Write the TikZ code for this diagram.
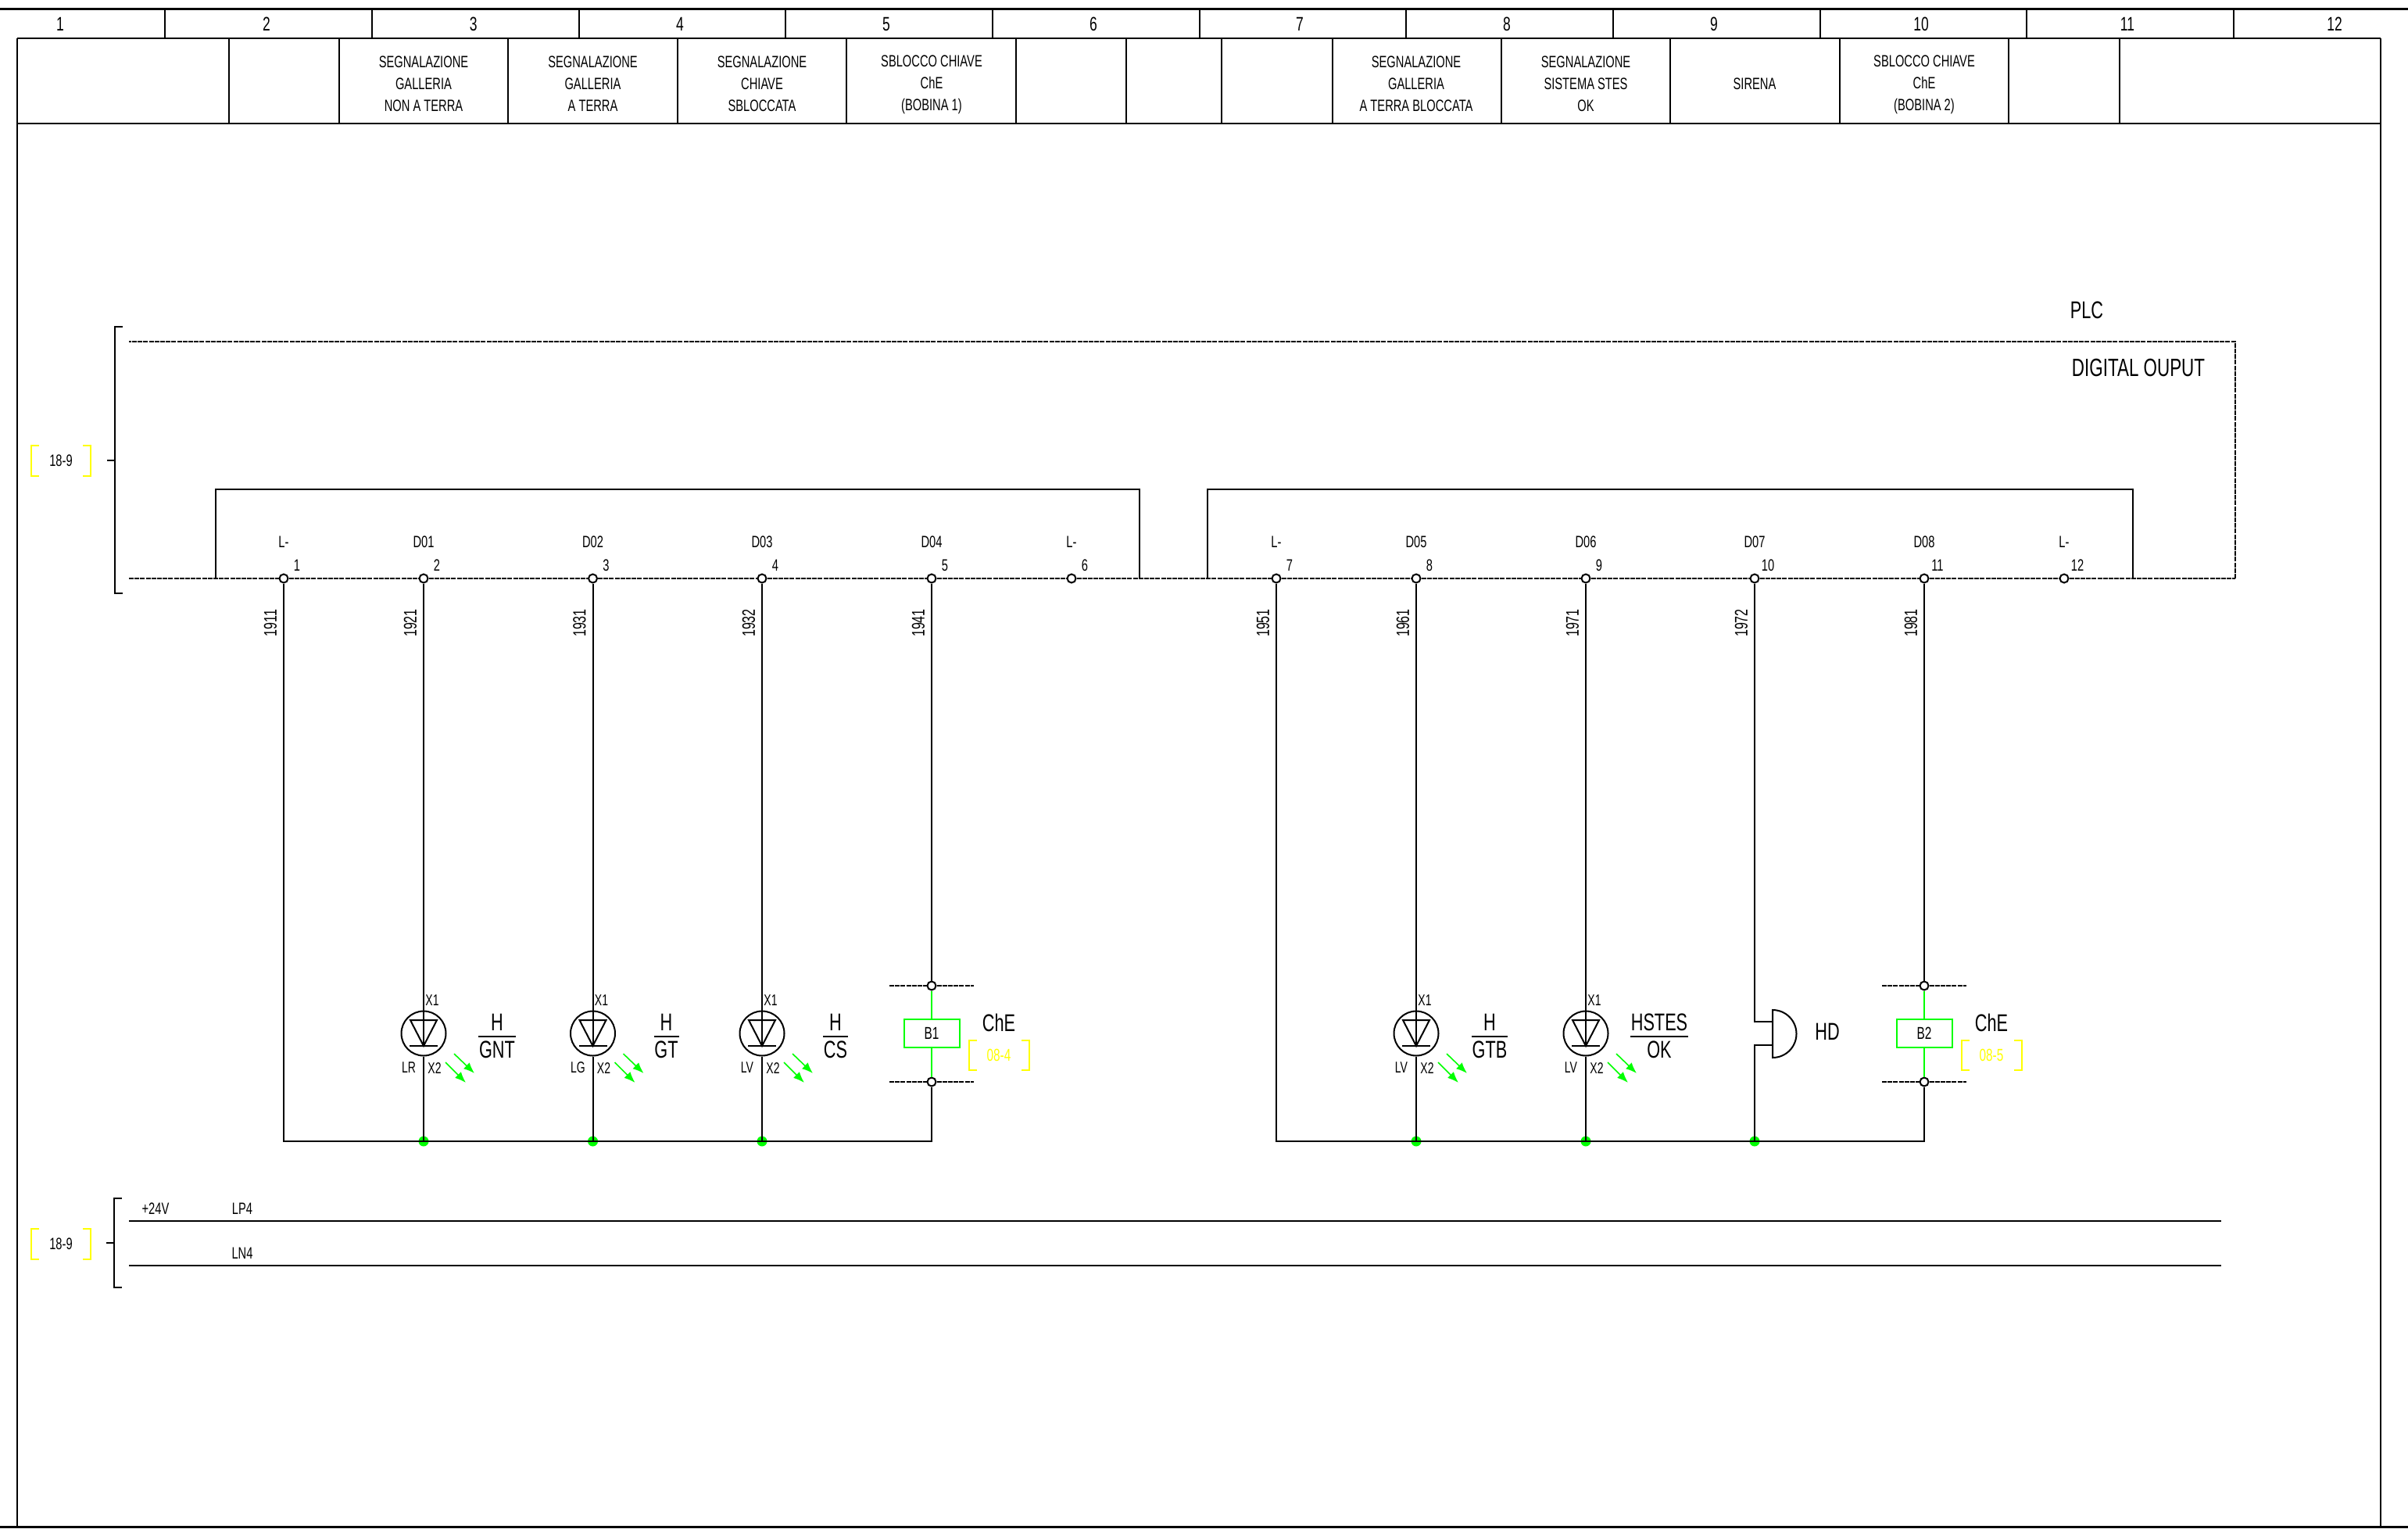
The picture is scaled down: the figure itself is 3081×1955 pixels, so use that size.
\documentclass[tikz,border=0pt]{standalone}
\usepackage{fontspec}
\setmainfont[FakeStretch=0.7]{Liberation Sans}
\usetikzlibrary{arrows.meta}
\definecolor{grn}{RGB}{0,255,0}
\definecolor{ylw}{RGB}{255,255,0}
\newcommand{\fsz}[2][1.2]{\fontsize{#2}{#1 em}\selectfont}
\tikzset{
  wire/.style={line width=2pt,line join=miter},
  frame/.style={line width=2.4pt},
  fine/.style={line width=1.6pt},
  busdash/.style={line width=2pt,dash pattern=on 6pt off 1.2pt},
  term/.style={circle,draw=black,fill=white,line width=2pt,inner sep=0pt,minimum size=11pt},
  junc/.style={circle,fill=grn,inner sep=0pt,minimum size=13pt},
  txt/.style={inner sep=0pt,text=black},
  head/.style={txt,font=\fsz[28pt]{21},align=center},
  colnum/.style={txt,font=\fsz{25}},
  tiny/.style={txt,font=\fsz{20}},
  termlab/.style={txt,font=\fsz{21}},
  small/.style={txt,font=\fsz{21}},
  big/.style={txt,font=\fsz{31}},
  wirelab/.style={txt,font=\fsz{23},rotate=90},
  coilbox/.style={rectangle,draw=grn,line width=2pt,fill=white,minimum width=71pt,minimum height=36pt,inner sep=0pt,font=\fsz{22}},
  ledring/.style={circle,draw=black,line width=2pt,inner sep=0pt,minimum size=57pt},
  glow/.style={draw=grn,fill=grn,line width=1.6pt,-{Latex[length=14pt,width=11pt]}},
  ybr/.style={draw=ylw,line width=2pt},
  bracketk/.style={line width=2pt},
}
% LED symbol: id, x, colour label, upper tag, lower tag, half length of the bar
\newcommand{\ledsym}[6]{%
  \node[ledring] (led#1) at (#2,1322) {};
  \draw[line width=2pt,line join=miter] (#2-17,1305) -- (#2+17,1305) -- (#2,1338) -- cycle;
  \draw[line width=2pt] (#2-18,1338) -- (#2+18,1338);
  \node[tiny] (x1#1) at (#2+11,1280) {X1};
  \node[tiny] (x2#1) at (#2+14,1366) {X2};
  \node[tiny] (col#1) at (#2-19,1366) {#3};
  \coordinate (ga#1) at (#2+39,1348);
  \coordinate (gb#1) at (#2+65,1373);
  \coordinate (gc#1) at (#2+28,1359);
  \coordinate (gd#1) at (#2+54,1385);
  \draw[glow] (ga#1) -- (gb#1);
  \draw[glow] (gc#1) -- (gd#1);
  \node[big] (up#1) at (#2+94,1308) {#4};
  \node[big] (lo#1) at (#2+94,1343) {#5};
  \coordinate (la#1) at (#2+94-#6,1326);
  \coordinate (lb#1) at (#2+94+#6,1326);
  \draw[line width=2.6pt] (la#1) -- (lb#1);
}
% Coil: id, x, coil name, cross reference
\newcommand{\coilsym}[4]{%
  \node[term] (ct#1) at (#2,1261) {};
  \node[term] (cb#1) at (#2,1384) {};
  \coordinate (cta#1) at (#2-54,1261);
  \coordinate (ctb#1) at (#2+54,1261);
  \coordinate (cba#1) at (#2-54,1384);
  \coordinate (cbb#1) at (#2+54,1384);
  \draw[busdash] (cta#1) -- (ct#1) -- (ctb#1);
  \draw[busdash] (cba#1) -- (cb#1) -- (cbb#1);
  \node[coilbox] (coil#1) at (#2,1322) {#3};
  \draw[draw=grn,line width=2pt] (ct#1) -- (coil#1) -- (cb#1);
  \node[big] (che#1) at (#2+86,1308) {ChE};
  \draw[ybr] (#2+58,1331) -- (#2+48,1331) -- (#2+48,1369) -- (#2+58,1369);
  \draw[ybr] (#2+115,1331) -- (#2+125,1331) -- (#2+125,1369) -- (#2+115,1369);
  \node[txt,text=ylw,font=\fsz{22}] (ref#1) at (#2+86,1350) {#4};
}
\newcommand{\ybrack}[1]{%
  \draw[ybr] (50,#1-19.5) -- (40,#1-19.5) -- (40,#1+19.5) -- (50,#1+19.5);
  \draw[ybr] (106,#1-19.5) -- (116,#1-19.5) -- (116,#1+19.5) -- (106,#1+19.5);
}
\begin{document}
\begin{tikzpicture}[x=1pt,y=-1pt]
\useasboundingbox (0,0) rectangle (3081,1955);
\fill[white] (0,0) rectangle (3081,1955);

% ---------- sheet frame
\draw[frame] (0,11.5) -- (3081,11.5);
\draw[frame] (22,49) -- (3046,49);
\draw[frame] (22,158) -- (3046,158);
\draw[frame] (22,49) -- (22,1953.5);
\draw[frame] (3046,49) -- (3046,1953.5);
\draw[frame] (0,1953.5) -- (3081,1953.5);
\foreach \x in {211,476,741,1005,1270,1535,1799,2064,2329,2593,2858}
  \draw[wire] (\x,11.5) -- (\x,49);
\foreach \x in {293,434,650,867,1083,1300,1441,1563,1705,1921,2137,2354,2570,2712}
  \draw[wire] (\x,49) -- (\x,158);
\foreach \n/\x in {1/77,2/341,3/605.7,4/870,5/1134,6/1399,7/1663,8/1928,9/2193,10/2458,11/2722,12/2987}
  \node[colnum] (col-\n) at (\x,31) {\n};

% ---------- column titles
\node[head] (h3) at (542,107) {SEGNALAZIONE\\GALLERIA\\NON A TERRA};
\node[head] (h4) at (758.5,107) {SEGNALAZIONE\\GALLERIA\\A TERRA};
\node[head] (h5) at (975,107) {SEGNALAZIONE\\CHIAVE\\SBLOCCATA};
\node[head] (h6) at (1192,108.5) {SBLOCCO CHIAVE\\ChE\\(BOBINA 1)};
\node[head] (h8) at (1812,107) {SEGNALAZIONE\\GALLERIA\\A TERRA BLOCCATA};
\node[head] (h9) at (2029,107) {SEGNALAZIONE\\SISTEMA STES\\OK};
\node[head] (h10) at (2245,107) {SIRENA};
\node[head] (h11) at (2462,108.5) {SBLOCCO CHIAVE\\ChE\\(BOBINA 2)};

% ---------- side brackets
\draw[bracketk] (157,418) -- (146.5,418) -- (146.5,759) -- (157,759);
\draw[bracketk] (137,589) -- (146.5,589);
\ybrack{589}
\node[small] (ref1) at (78,589) {18-9};
\draw[bracketk] (156,1533) -- (146,1533) -- (146,1647) -- (156,1647);
\draw[bracketk] (136,1590) -- (146,1590);
\ybrack{1591}
\node[small] (ref2) at (78,1591) {18-9};

% ---------- PLC
\node[big] (plc) at (2670,397) {PLC};
\node[txt,font=\fsz{32}] (dig) at (2736,470) {DIGITAL OUPUT};

% ---------- terminals on the PLC bus
\foreach \n/\x in {1/363,2/542,3/758.5,4/975,5/1192,6/1371,7/1633,8/1812,9/2029,10/2245,11/2462,12/2641}
  \node[term] (t\n) at (\x,740) {};
\coordinate (busL) at (165,740);
\coordinate (busR) at (2860,740);
\coordinate (topR) at (2860,437);
\coordinate (topL) at (165,437);
\draw[busdash] (busL) -- (t1) -- (t2) -- (t3) -- (t4) -- (t5) -- (t6) -- (t7) -- (t8) -- (t9) -- (t10) -- (t11) -- (t12) -- (busR);
\draw[line width=1.8pt,dash pattern=on 6pt off 1.2pt] (busR) -- (topR) -- (topL);

% inner boxes
\draw[wire] (275.5,740) -- (275.5,625.5) -- (1458,625.5) -- (1458,740);
\draw[wire] (1545,740) -- (1545,625.5) -- (2729,625.5) -- (2729,740);

% terminal labels
\foreach \n/\x/\lab in {1/363/L-,2/542/D01,3/758.5/D02,4/975/D03,5/1192/D04,6/1371/L-,7/1633/L-,8/1812/D05,9/2029/D06,10/2245/D07,11/2462/D08,12/2641/L-}{
  \node[termlab] (tl\n) at (\x,693) {\lab};
  \node[termlab] (tn\n) at (\x+17,723) {\n};
}
\foreach \n/\x/\lab in {1/363/1911,2/542/1921,3/758.5/1931,4/975/1932,5/1192/1941,7/1633/1951,8/1812/1961,9/2029/1971,10/2245/1972,11/2462/1981}
  \node[wirelab] (wl\n) at (\x-17,797) {\lab};

% ---------- devices
\ledsym{a}{542}{LR}{H}{GNT}{24}
\ledsym{b}{758.5}{LG}{H}{GT}{16}
\ledsym{c}{975}{LV}{H}{CS}{16}
\ledsym{d}{1812}{LV}{H}{GTB}{23}
\ledsym{e}{2029}{LV}{HSTES}{OK}{37}
\coilsym{f}{1192}{B1}{08-4}
\coilsym{g}{2462}{B2}{08-5}

% siren
\coordinate (sa) at (2245,1307);
\coordinate (sb) at (2268,1307);
\coordinate (sc) at (2268,1337);
\coordinate (sd) at (2245,1337);
\coordinate (se) at (2268,1292);
\draw[wire] (se) arc[start angle=-90,end angle=90,radius=30.5] -- cycle;
\node[big] (hd) at (2338,1320) {HD};

% ---------- lower collector
\coordinate (c1) at (363,1460);
\node[junc] (j2) at (542,1460) {};
\node[junc] (j3) at (758.5,1460) {};
\node[junc] (j4) at (975,1460) {};
\coordinate (c5) at (1192,1460);
\coordinate (c7) at (1633,1460);
\node[junc] (j8) at (1812,1460) {};
\node[junc] (j9) at (2029,1460) {};
\node[junc] (j10) at (2245,1460) {};
\coordinate (c11) at (2462,1460);

% ---------- wires
\draw[wire] (t1) -- (c1) -- (c5) -- (cbf);
\draw[wire] (t5) -- (ctf);
\draw[wire] (t7) -- (c7) -- (c11) -- (cbg);
\draw[wire] (t11) -- (ctg);
\draw[wire] (t2) -- (leda) (leda) -- (j2.center);
\draw[wire] (t3) -- (ledb) (ledb) -- (j3.center);
\draw[wire] (t4) -- (ledc) (ledc) -- (j4.center);
\draw[wire] (t8) -- (ledd) (ledd) -- (j8.center);
\draw[wire] (t9) -- (lede) (lede) -- (j9.center);
\draw[wire] (t10) -- (sa) -- (sb);
\draw[wire] (sc) -- (sd) -- (j10.center);
\foreach \n/\x in {a/542,b/758.5,c/975,d/1812,e/2029}
  \draw[wire] (\x,1293) -- (\x,1338);

% ---------- supply rails
\coordinate (rpa) at (165,1562);
\coordinate (rpb) at (2842,1562);
\coordinate (rna) at (165,1619);
\coordinate (rnb) at (2842,1619);
\draw[wire] (rpa) -- (rpb);
\draw[wire] (rna) -- (rnb);
\node[small] (v24) at (199,1546) {+24V};
\node[small] (lp4) at (310,1546) {LP4};
\node[small] (ln4) at (310,1603) {LN4};
\end{tikzpicture}
\end{document}
